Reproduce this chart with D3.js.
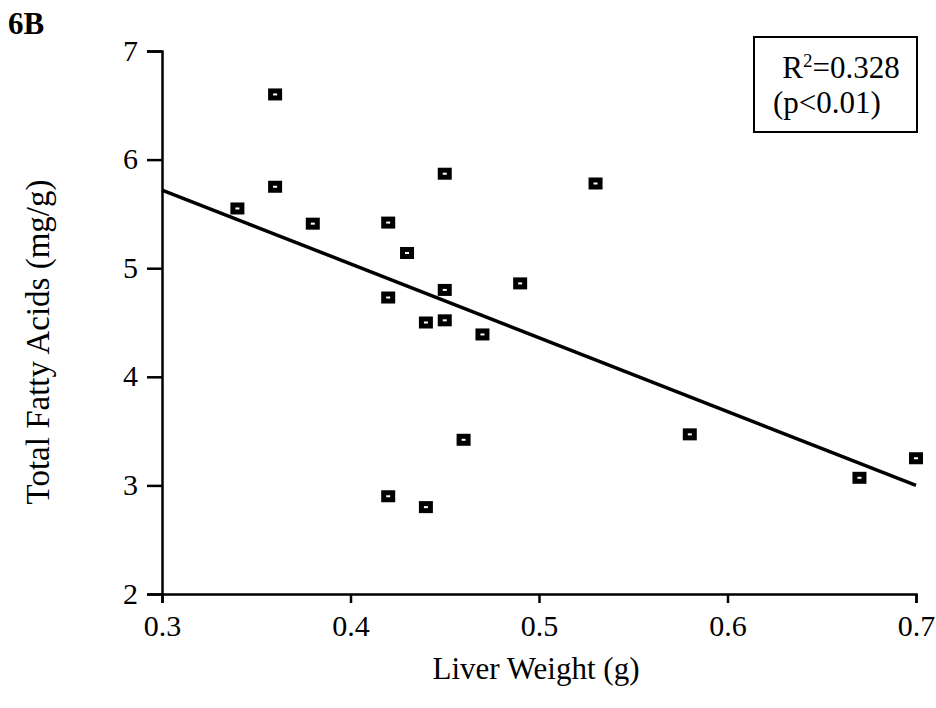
<!DOCTYPE html>
<html><head><meta charset="utf-8">
<script src="https://cdn.jsdelivr.net/npm/d3@7"></script>
<style>body{margin:0;background:#fff;} text{font-family:"Liberation Serif","Times New Roman",serif;}</style>
</head><body>
<svg id="c" width="936" height="708"></svg>
<script>
const liverWeight = [0.36,0.36,0.34,0.38,0.42,0.43,0.42,0.45,0.45,0.45,0.44,0.47,0.49,0.53,0.46,0.42,0.44,0.58,0.67,0.70];
const totalFattyAcids = [6.60,5.75,5.55,5.41,5.42,5.14,4.73,5.87,4.80,4.52,4.50,4.39,4.86,5.78,3.42,2.90,2.80,3.47,3.07,3.25];
const fitX = [0.3, 0.7];
const fitY = [5.72, 3.00];
const xTicks = [0.3,0.4,0.5,0.6,0.7];
const yTicks = [2,3,4,5,6,7];
const annotation = ["R", "2", "=0.328", "(p<0.01)"];

const svg = d3.select("#c");
const x = d3.scaleLinear().domain([0.3,0.7]).range([162,916]);
const y = d3.scaleLinear().domain([2,7]).range([594,51]);

const xa = svg.append("g").attr("transform","translate(0,594)")
  .call(d3.axisBottom(x).tickValues(xTicks).tickFormat(d3.format(".1f")).tickSize(9).tickPadding(12));
const ya = svg.append("g").attr("transform","translate(162,0)")
  .call(d3.axisLeft(y).tickValues(yTicks).tickFormat(d3.format("d")).tickSize(15).tickPadding(9));
[xa,ya].forEach(a=>{
  a.select(".domain").attr("stroke","#000").attr("stroke-width",2.5);
  a.selectAll(".tick line").attr("stroke","#000").attr("stroke-width",2.5);
  a.selectAll(".tick text").attr("font-size",30).attr("fill","#000").attr("font-family","Liberation Serif");
});
ya.selectAll(".tick text").attr("dy","0.3em");

svg.append("path")
  .attr("d", d3.line().x((d,i)=>x(fitX[i])).y((d,i)=>y(fitY[i]))(fitX))
  .attr("stroke","#000").attr("stroke-width",3.5).attr("fill","none");

svg.append("g").selectAll("rect").data(liverWeight).join("rect")
  .attr("x",(d)=>x(d)-4.5).attr("y",(d,i)=>y(totalFattyAcids[i])-3.5)
  .attr("width",9).attr("height",7)
  .attr("fill","#fff").attr("stroke","#000").attr("stroke-width",5);

svg.append("text").attr("x",8).attr("y",34).attr("font-size",31).attr("font-weight","bold").text("6B");

svg.append("text").attr("transform","translate(49,342) rotate(-90)").attr("text-anchor","middle")
  .attr("font-size",33).text("Total Fatty Acids (mg/g)");
svg.append("text").attr("x",536).attr("y",679).attr("text-anchor","middle")
  .attr("font-size",31).text("Liver Weight (g)");

svg.append("rect").attr("x",754).attr("y",37).attr("width",163).attr("height",95)
  .attr("fill","none").attr("stroke","#000").attr("stroke-width",2);
const t1 = svg.append("text").attr("x",841).attr("y",78).attr("text-anchor","middle").attr("font-size",31);
t1.append("tspan").text(annotation[0]);
t1.append("tspan").attr("dy",-11).attr("font-size",19).text(annotation[1]);
t1.append("tspan").attr("dy",11).text(annotation[2]);
svg.append("text").attr("x",827).attr("y",113).attr("text-anchor","middle").attr("font-size",31).text(annotation[3]);
</script>
</body></html>
